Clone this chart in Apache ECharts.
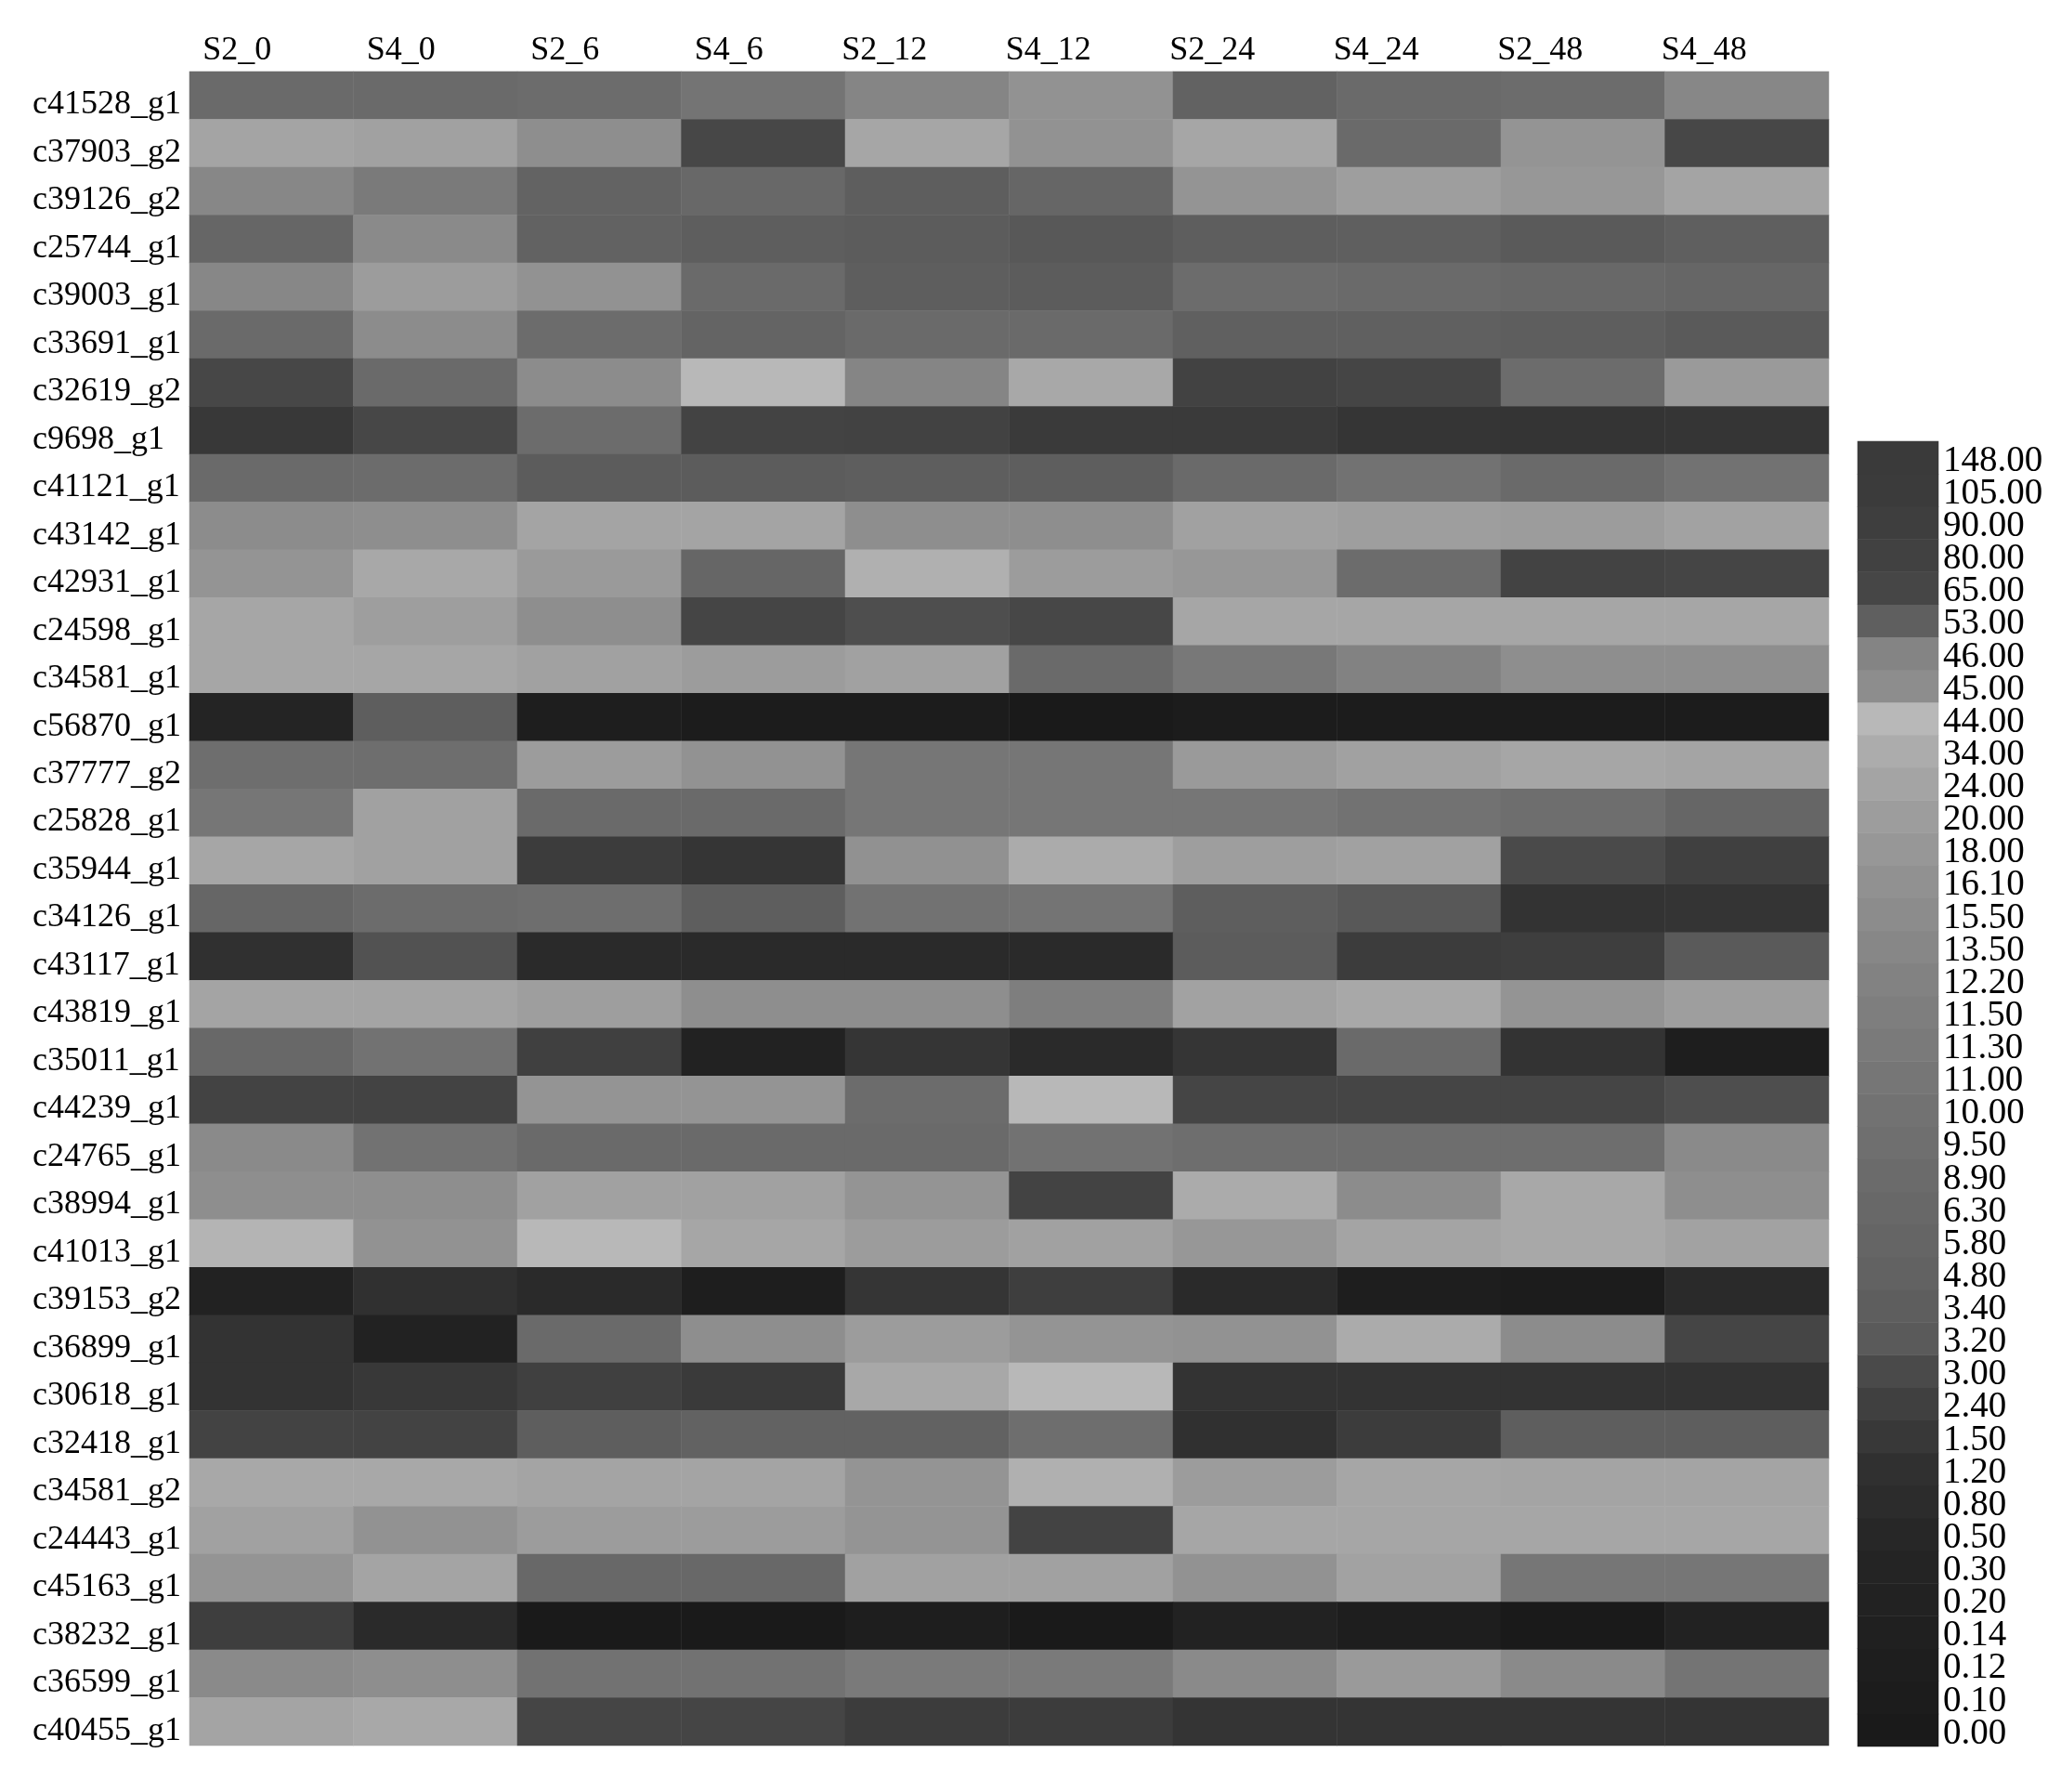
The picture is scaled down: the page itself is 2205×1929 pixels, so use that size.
<!DOCTYPE html>
<html>
<head>
<meta charset="utf-8">
<script src="https://cdn.jsdelivr.net/npm/echarts@6/dist/echarts.min.js"></script>
<style>
  html, body { margin: 0; padding: 0; background: #fff; }
  #chart { width: 2205px; height: 1929px; }
</style>
</head>
<body>
<div id="chart"></div>
<script>
// 样本列
const samples = ['S2_0', 'S4_0', 'S2_6', 'S4_6', 'S2_12', 'S4_12', 'S2_24', 'S4_24', 'S2_48', 'S4_48']

// 基因行（从上到下）
const genes = [
  'c41528_g1', 'c37903_g2', 'c39126_g2', 'c25744_g1', 'c39003_g1', 'c33691_g1', 'c32619_g2',
  'c9698_g1 ', 'c41121_g1', 'c43142_g1', 'c42931_g1', 'c24598_g1', 'c34581_g1', 'c56870_g1',
  'c37777_g2', 'c25828_g1', 'c35944_g1', 'c34126_g1', 'c43117_g1', 'c43819_g1', 'c35011_g1',
  'c44239_g1', 'c24765_g1', 'c38994_g1', 'c41013_g1', 'c39153_g2', 'c36899_g1', 'c30618_g1',
  'c32418_g1', 'c34581_g2', 'c24443_g1', 'c45163_g1', 'c38232_g1', 'c36599_g1', 'c40455_g1',
]

// 表达量，每行对应一个基因，按 samples 顺序
const expr = [
  [8.0, 8.0, 9.1, 10.5, 13.0, 16.5, 4.8, 8.0, 9.1, 13.5],
  [24.0, 22.0, 15.7, 2.8, 26.5, 16.5, 26.5, 8.0, 17.0, 2.8],
  [13.5, 11.3, 5.2, 6.3, 3.4, 6.0, 17.0, 20.5, 18.0, 24.0],
  [6.0, 14.7, 4.8, 3.4, 3.3, 3.18, 3.4, 3.8, 3.2, 3.8],
  [13.5, 19.7, 16.5, 8.0, 3.4, 3.3, 9.1, 8.0, 6.3, 6.0],
  [8.0, 15.5, 9.1, 5.5, 8.0, 8.0, 4.1, 4.1, 3.4, 3.2],
  [2.8, 8.0, 15.5, 44.0, 13.0, 29.0, 2.5, 2.7, 9.1, 19.0],
  [1.5, 2.8, 9.1, 2.55, 2.5, 1.7, 1.7, 1.4, 1.35, 1.4],
  [8.0, 9.1, 3.3, 3.3, 3.4, 3.4, 8.0, 10.0, 8.0, 10.0],
  [15.5, 15.7, 24.0, 24.0, 15.7, 15.7, 22.0, 20.5, 19.7, 23.0],
  [17.0, 29.0, 19.0, 6.0, 37.5, 19.7, 18.0, 9.1, 2.6, 2.7],
  [26.5, 20.5, 15.7, 2.7, 3.05, 2.8, 26.5, 26.5, 26.5, 26.5],
  [26.5, 26.5, 22.0, 19.7, 22.0, 8.0, 11.15, 12.2, 15.7, 15.7],
  [0.3, 3.4, 0.12, 0.1, 0.1, 0.0, 0.1, 0.1, 0.1, 0.1],
  [9.4, 9.4, 19.7, 16.5, 11.0, 11.0, 19.0, 22.0, 26.5, 24.0],
  [11.0, 22.0, 8.0, 8.0, 11.0, 11.0, 11.0, 10.0, 9.4, 6.0],
  [26.5, 22.0, 1.95, 1.4, 16.1, 32.5, 20.5, 22.0, 3.0, 2.4],
  [6.0, 9.1, 9.4, 3.4, 10.0, 10.5, 3.4, 3.18, 1.3, 1.35],
  [1.2, 3.1, 0.7, 0.7, 0.7, 0.7, 3.3, 1.95, 2.2, 3.2],
  [24.0, 24.0, 20.5, 15.7, 15.7, 11.5, 23.0, 29.0, 17.0, 20.5],
  [6.3, 10.0, 2.4, 0.2, 1.4, 0.7, 1.4, 8.0, 1.3, 0.12],
  [2.6, 2.6, 17.0, 17.0, 9.1, 44.0, 2.7, 2.7, 2.7, 3.05],
  [14.7, 10.0, 8.0, 8.0, 8.0, 10.0, 9.4, 9.4, 9.4, 14.7],
  [15.7, 15.7, 22.0, 22.0, 17.0, 2.6, 32.5, 15.5, 29.0, 15.7],
  [41.0, 16.5, 44.0, 26.5, 19.7, 22.0, 18.0, 24.0, 29.0, 23.0],
  [0.2, 1.2, 0.7, 0.12, 1.4, 2.2, 0.7, 0.12, 0.1, 0.7],
  [1.3, 0.2, 8.0, 15.7, 19.7, 17.0, 16.5, 32.5, 15.5, 2.7],
  [1.3, 1.5, 2.4, 1.7, 29.0, 44.0, 1.3, 1.3, 1.3, 1.3],
  [2.6, 2.6, 3.4, 4.8, 4.8, 9.4, 1.2, 1.95, 3.4, 3.4],
  [29.0, 29.0, 24.0, 24.0, 17.0, 37.5, 19.7, 26.5, 24.0, 24.0],
  [22.0, 16.5, 19.7, 19.7, 17.0, 2.6, 26.5, 26.5, 26.5, 26.5],
  [17.0, 24.0, 6.3, 6.3, 22.0, 22.0, 16.5, 23.0, 11.0, 11.0],
  [2.2, 0.7, 0.0, 0.0, 0.12, 0.0, 0.2, 0.12, 0.0, 0.2],
  [14.7, 15.7, 10.0, 10.0, 11.3, 11.3, 14.7, 19.0, 14.7, 10.5],
  [24.0, 29.0, 2.7, 2.7, 1.95, 1.95, 1.35, 1.35, 1.35, 1.35],
]

// 图例刻度（从下到上）
const legendTicks = [
  0, 0.1, 0.12, 0.14, 0.2, 0.3, 0.5, 0.8, 1.2, 1.5, 2.4, 3, 3.2, 3.4, 4.8, 5.8, 6.3, 8.9, 9.5, 10,
  11, 11.3, 11.5, 12.2, 13.5, 15.5, 16.1, 18, 20, 24, 34, 44, 45, 46, 53, 65, 80, 90, 105, 148,
]
// 每个刻度对应的灰度
const legendGrays = [
  '#1a1a1a', '#1c1c1c', '#1e1e1e', '#202020', '#222222', '#242424', '#272727', '#2c2c2c', '#303030', '#383838',
  '#404040', '#4a4a4a', '#5a5a5a', '#5e5e5e', '#626262', '#656565', '#686868', '#6b6b6b', '#6f6f6f', '#727272',
  '#767676', '#7a7a7a', '#7e7e7e', '#828282', '#878787', '#8c8c8c', '#919191', '#979797', '#9d9d9d', '#a4a4a4',
  '#acacac', '#b8b8b8', '#8d8d8d', '#848484', '#5f5f5f', '#464646', '#414141', '#3e3e3e', '#3b3b3b', '#3a3a3a',
]

// 数值 -> 图例上的位置（刻度之间线性插值）
function toRank(v) {
  for (let i = 0; i < legendTicks.length - 1; i++) {
    const a = legendTicks[i]
    const b = legendTicks[i + 1]
    if (v <= b) return i + (v - a) / (b - a)
  }
  return legendTicks.length - 1
}

const cellData = []
expr.forEach((row, r) => {
  row.forEach((v, c) => {
    cellData.push([c, r, v, toRank(v)])
  })
})
const barData = legendTicks.map((v, i) => [0, i, v, i])

const labelFont = '"Liberation Serif", "DejaVu Serif", serif'

const chart = echarts.init(document.getElementById('chart'))
const option = {
  backgroundColor: '#ffffff',
  animation: false,
  grid: [
    { left: 204, top: 77, width: 1765, height: 1802 },
    { left: 2000, top: 475, width: 87, height: 1405 },
  ],
  xAxis: [
    {
      type: 'category',
      gridIndex: 0,
      position: 'top',
      data: samples,
      axisLine: { show: false },
      axisTick: { show: false },
      splitLine: { show: false },
      axisLabel: {
        interval: 0,
        align: 'right',
        margin: 4,
        color: '#000',
        fontSize: 36,
        fontFamily: labelFont,
      },
    },
    {
      type: 'category',
      gridIndex: 1,
      data: [''],
      show: false,
    },
  ],
  yAxis: [
    {
      type: 'category',
      gridIndex: 0,
      inverse: true,
      data: genes,
      axisLine: { show: false },
      axisTick: { show: false },
      splitLine: { show: false },
      axisLabel: {
        interval: 0,
        align: 'left',
        verticalAlign: 'top',
        lineHeight: 20,
        margin: 169,
        color: '#000',
        fontSize: 36,
        fontFamily: labelFont,
      },
    },
    {
      type: 'category',
      gridIndex: 1,
      position: 'right',
      data: legendTicks.map((v) => v.toFixed(2)),
      axisLine: { show: false },
      axisTick: { show: false },
      splitLine: { show: false },
      axisLabel: {
        interval: 0,
        align: 'left',
        verticalAlign: 'top',
        lineHeight: 8,
        margin: 5,
        color: '#000',
        fontSize: 39,
        fontFamily: labelFont,
      },
    },
  ],
  visualMap: {
    type: 'continuous',
    show: false,
    min: 0,
    max: legendTicks.length - 1,
    dimension: 3,
    seriesIndex: [0, 1],
    inRange: { color: legendGrays },
  },
  series: [
    {
      name: 'expr',
      type: 'heatmap',
      xAxisIndex: 0,
      yAxisIndex: 0,
      data: cellData,
      emphasis: { disabled: true },
    },
    {
      name: 'legend',
      type: 'heatmap',
      xAxisIndex: 1,
      yAxisIndex: 1,
      data: barData,
      emphasis: { disabled: true },
    },
  ],
}
chart.setOption(option)
</script>
</body>
</html>
